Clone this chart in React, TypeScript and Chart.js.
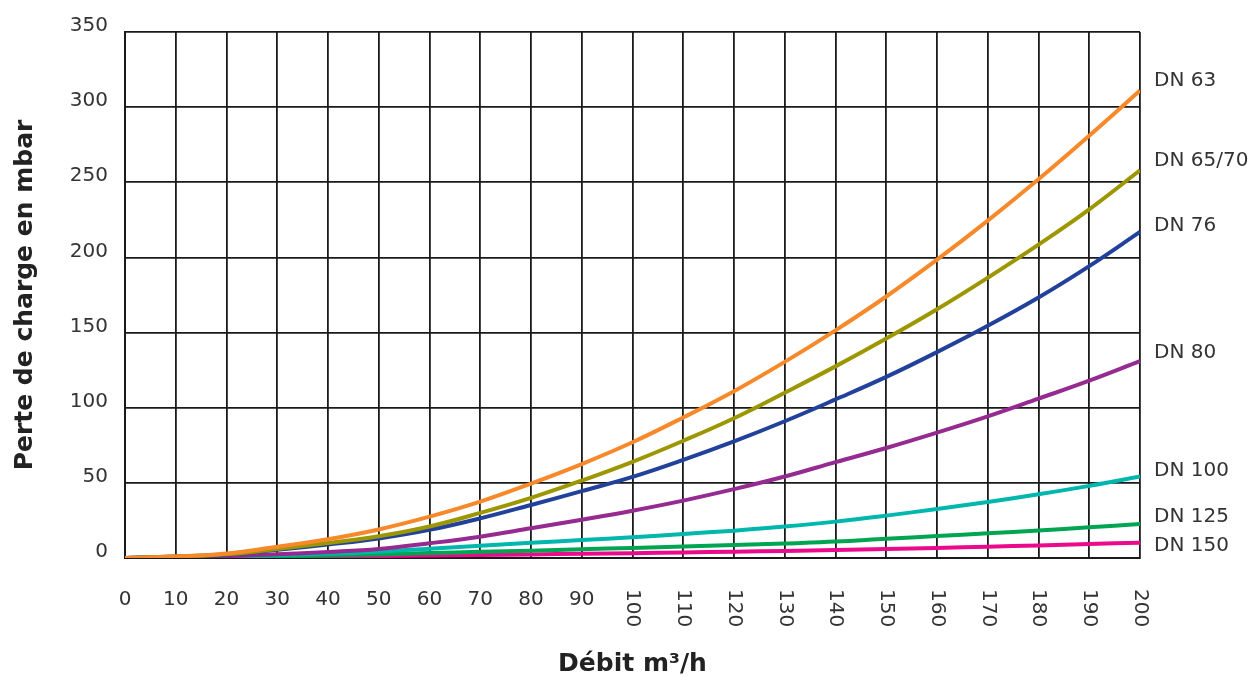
import React, { useEffect, useRef } from 'react';
import { Chart, registerables } from 'chart.js';

Chart.register(...registerables);

const flowRates = [0, 10, 20, 30, 40, 50, 60, 70, 80, 90, 100, 110, 120, 130, 140, 150, 160, 170, 180, 190, 200];
const yTicks = [0, 50, 100, 150, 200, 250, 300, 350];

const seriesNames = ['DN 63', 'DN 65/70', 'DN 76', 'DN 80', 'DN 100', 'DN 125', 'DN 150'];

const dn63 = [0, 1, 3, 7.5, 12.5, 19, 27.5, 37.5, 49.5, 62.5, 77, 93.5, 111, 130.5, 151.5, 174, 198.5, 224.5, 252, 281, 311];
const dn6570 = [0, 1, 2.5, 6, 10, 14.5, 21, 30, 40, 51.5, 64, 78, 93, 110, 127.5, 146, 165.5, 186.5, 208.5, 232, 258];
const dn76 = [0, 1, 2.2, 5.5, 9, 13, 18.7, 26.4, 35.3, 44.5, 54, 65.3, 77.6, 91, 105.5, 120.5, 137, 154.5, 173.3, 194.2, 217];
const dn80 = [0, 0.5, 1.2, 2.5, 4, 6, 9.8, 14.2, 19.8, 25.5, 31.5, 38.2, 45.8, 54.2, 63.8, 73.2, 83.4, 94.2, 106, 118, 131];
const dn100 = [0, 0.4, 1, 1.8, 3, 4.2, 6.2, 8.2, 10.1, 11.9, 13.8, 16, 18.2, 20.9, 24.2, 28.2, 32.6, 37.3, 42.4, 48, 54.2];
const dn125 = [0, 0.3, 0.6, 1, 1.6, 2.4, 3.3, 4.1, 4.9, 5.8, 6.7, 7.6, 8.6, 9.7, 10.9, 12.8, 14.6, 16.4, 18.3, 20.4, 22.7];
const dn150 = [0, 0.2, 0.4, 0.6, 0.9, 1.3, 1.6, 2, 2.4, 2.8, 3.2, 3.7, 4.2, 4.7, 5.3, 6, 6.7, 7.5, 8.4, 9.3, 10.2];

const seriesValues = [dn63, dn6570, dn76, dn80, dn100, dn125, dn150];
const seriesColors = ['#F7892A', '#9C9600', '#22419A', '#952A90', '#00B7AE', '#00A552', '#EC0A8C'];
const labelShift = [-10, -9, -6, -8, -6, -7, 3];

const FONT = '"DejaVu Sans", sans-serif';

const overlayPlugin = {
  id: 'overlay',
  afterDraw(chart: any) {
    const { ctx, chartArea, scales } = chart;
    const x = scales.x;
    const y = scales.y;
    ctx.save();
    ctx.font = `20px ${FONT}`;
    ctx.fillStyle = '#333';
    flowRates.forEach((v) => {
      const px = x.getPixelForValue(v);
      if (v < 100) {
        ctx.textAlign = 'center';
        ctx.textBaseline = 'middle';
        ctx.fillText(String(v), px, chartArea.bottom + 42);
      } else {
        ctx.save();
        ctx.translate(px, chartArea.bottom + 31);
        ctx.rotate(Math.PI / 2);
        ctx.textAlign = 'left';
        ctx.textBaseline = 'middle';
        ctx.fillText(String(v), 0, 0);
        ctx.restore();
      }
    });
    ctx.textAlign = 'left';
    ctx.textBaseline = 'middle';
    seriesNames.forEach((name, i) => {
      const vals = seriesValues[i];
      const py = y.getPixelForValue(vals[vals.length - 1]) + labelShift[i];
      ctx.fillText(name, chartArea.right + 14, py);
    });
    ctx.restore();
  },
};

export default function App() {
  const ref = useRef<HTMLCanvasElement | null>(null);
  useEffect(() => {
    if (!ref.current) return;
    const chart = new Chart(ref.current, {
      type: 'line',
      data: {
        labels: flowRates,
        datasets: seriesNames.map((name, i) => ({
          label: name,
          data: flowRates.map((q, j) => ({ x: q, y: seriesValues[i][j] })),
          borderColor: seriesColors[i],
          backgroundColor: seriesColors[i],
          borderWidth: 4,
          pointRadius: 0,
          tension: 0.4,
          fill: false,
        })),
      },
      options: {
        animation: false,
        responsive: true,
        maintainAspectRatio: false,
        layout: { padding: { top: 32, right: 115, bottom: 0, left: 0 } },
        plugins: { legend: { display: false }, tooltip: { enabled: false } },
        scales: {
          x: {
            type: 'linear',
            min: 0,
            max: 200,
            ticks: { stepSize: 10, display: false },
            grid: { color: '#1a1a1a', lineWidth: 1.8, drawTicks: false },
            border: { color: '#1a1a1a', width: 2 },
            title: {
              display: true,
              text: 'Débit m³/h',
              color: '#222',
              font: { family: FONT, size: 25, weight: 'bold', lineHeight: 1 },
              padding: { top: 0, bottom: 0 },
            },
            afterFit: (s: any) => {
              s.height = 119;
            },
          },
          y: {
            min: 0,
            max: 350,
            afterBuildTicks: (s: any) => {
              s.ticks = yTicks.map((v) => ({ value: v }));
            },
            ticks: {
              color: '#333',
              font: { family: FONT, size: 20 },
              padding: 17,
              labelOffset: -6,
            },
            grid: { color: '#1a1a1a', lineWidth: 1.8, drawTicks: false },
            border: { color: '#1a1a1a', width: 2 },
            title: {
              display: true,
              text: 'Perte de charge en mbar',
              color: '#222',
              font: { family: FONT, size: 25, weight: 'bold', lineHeight: 1 },
              padding: { top: 13, bottom: 0 },
            },
            afterFit: (s: any) => {
              s.width = 125;
            },
          },
        },
      },
      plugins: [overlayPlugin],
    });
    return () => chart.destroy();
  }, []);
  return (
    <div style={{ position: 'absolute', left: 0, top: 0, width: 1255, height: 677, background: '#fff' }}>
      <canvas ref={ref} />
    </div>
  );
}
